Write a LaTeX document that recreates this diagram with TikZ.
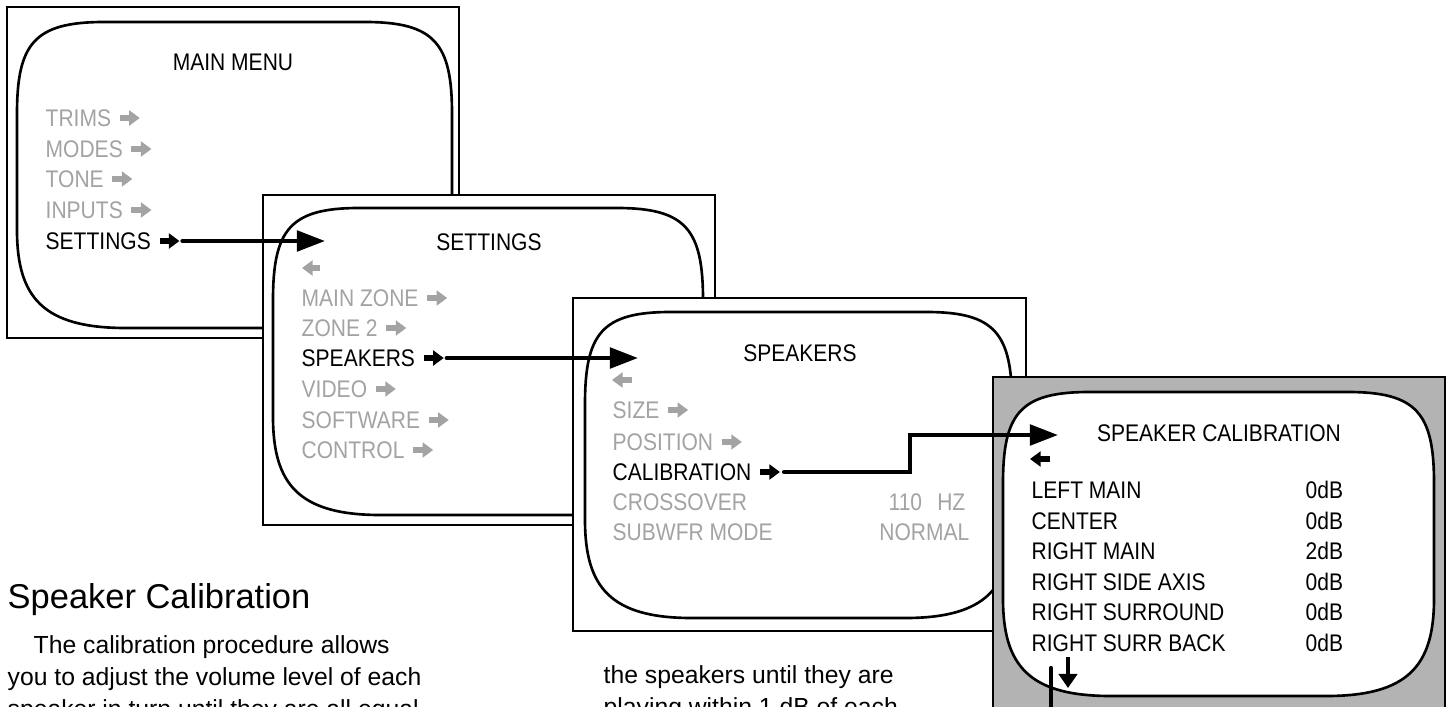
\documentclass[tikz,border=0pt]{standalone}
\usepackage{fontspec}
\setmainfont{Liberation Sans}
\newfontfamily\osdfont[FakeStretch=0.875]{Liberation Sans}
\usetikzlibrary{arrows.meta,calc}
\definecolor{dimtext}{RGB}{163,163,163}
\definecolor{panelgray}{RGB}{179,179,179}
\begin{document}
\begin{tikzpicture}[x=0.01cm,y=-0.01cm,
  frame/.style={draw,line width=0.6pt,fill=white},
  scr/.style={draw,line width=0.75pt,fill=white},
  screen/.pic={\path[scr] (0,50) -- (0,30) .. controls (0,7) and (4,0) .. (20,0) -- (80,0) .. controls (96,0) and (100,7) .. (100,30) -- (100,68) .. controls (100,90) and (94,100) .. (75,100) -- (25,100) .. controls (6,100) and (0,90) .. (0,68) -- cycle;},
  osd/.style={font=\osdfont\fontsize{6.83}{8}\selectfont,inner sep=0pt,text height=4.9pt,text depth=0pt},
  item/.style={osd,anchor=west,text=dimtext},
  sel/.style={osd,anchor=west,text=black},
  mini/.style={line width=1.7pt,-{Triangle[length=3pt,width=4.2pt]}},
  conn/.style={line width=1.2pt,line cap=round,-{Triangle[length=8pt,width=5.8pt]}},
  body/.style={font=\fontsize{7.03}{9}\selectfont,inner sep=0pt,anchor=base west}]
\useasboundingbox (0,0) rectangle (1452,706);
\clip (0,0) rectangle (1452,706);
% main menu
\draw[frame] (7,7) rectangle (459,338);
\pic[xscale=4.35,yscale=3.06] at (17,22) {screen};
\node[osd] (mm-title) at (233,62) {MAIN MENU};
\node[item] (mm-trims) at (45,118) {TRIMS};
\draw[mini,dimtext] ($(mm-trims.east)+(8,0)$) -- ++(20,0);
\node[item] (mm-modes) at (45,149) {MODES};
\draw[mini,dimtext] ($(mm-modes.east)+(8,0)$) -- ++(20,0);
\node[item] (mm-tone) at (45,179) {TONE};
\draw[mini,dimtext] ($(mm-tone.east)+(8,0)$) -- ++(20,0);
\node[item] (mm-inputs) at (45,210) {INPUTS};
\draw[mini,dimtext] ($(mm-inputs.east)+(8,0)$) -- ++(20,0);
\node[sel] (mm-set) at (45,241) {SETTINGS};
\draw[mini] ($(mm-set.east)+(8,0)$) -- ++(20,0) coordinate (mm-set-a);
% settings
\draw[frame] (263,195) rectangle (715,525);
\pic[xscale=4.30,yscale=3.07] at (273,208) {screen};
\coordinate (st-in) at (325,241);
\draw[conn] ($(mm-set-a)+(3,0)$) -- (st-in);
\node[osd] (st-title) at (489,242) {SETTINGS};
\draw[mini,dimtext] (320,268) -- (302,268);
\node[item] (st-main) at (301,298) {MAIN ZONE};
\draw[mini,dimtext] ($(st-main.east)+(8,0)$) -- ++(20,0);
\node[item] (st-zone) at (301,328) {ZONE 2};
\draw[mini,dimtext] ($(st-zone.east)+(8,0)$) -- ++(20,0);
\node[sel] (st-spk) at (301,358) {SPEAKERS};
\draw[mini] ($(st-spk.east)+(8,0)$) -- ++(20,0) coordinate (st-spk-a);
\node[item] (st-video) at (301,389) {VIDEO};
\draw[mini,dimtext] ($(st-video.east)+(8,0)$) -- ++(20,0);
\node[item] (st-soft) at (301,420) {SOFTWARE};
\draw[mini,dimtext] ($(st-soft.east)+(8,0)$) -- ++(20,0);
\node[item] (st-ctrl) at (301,450) {CONTROL};
\draw[mini,dimtext] ($(st-ctrl.east)+(8,0)$) -- ++(20,0);
% speakers
\draw[frame] (573,298) rectangle (1026,631);
\pic[xscale=4.27,yscale=3.06] at (585,312) {screen};
\coordinate (sp-in) at (638,358);
\draw[conn] ($(st-spk-a)+(3,0)$) -- (sp-in);
\node[osd] (sp-title) at (800,353) {SPEAKERS};
\draw[mini,dimtext] (632,380) -- (612,380);
\node[item] (sp-size) at (612,410) {SIZE};
\draw[mini,dimtext] ($(sp-size.east)+(8,0)$) -- ++(20,0);
\node[item] (sp-pos) at (612,442) {POSITION};
\draw[mini,dimtext] ($(sp-pos.east)+(8,0)$) -- ++(20,0);
\node[sel] (sp-cal) at (612,472) {CALIBRATION};
\draw[mini] ($(sp-cal.east)+(8,0)$) -- ++(20,0) coordinate (sp-cal-a);
\node[item] (sp-cross) at (612,502) {CROSSOVER};
\node[item,anchor=east] (sp-hz) at (966,502) {110\hspace{4.3pt}HZ};
\node[item] (sp-sub) at (612,532) {SUBWFR MODE};
\node[item,anchor=east] (sp-norm) at (970,532) {NORMAL};
% speaker calibration
\draw[line width=0.6pt,fill=panelgray] (993,377) rectangle (1445,720);
\pic[xscale=4.31,yscale=3.04] at (1003,392) {screen};
\coordinate (sc-in) at (1058,435);
\draw[conn] ($(sp-cal-a)+(4,0)$) -- ++(126,0) |- (sc-in);
\node[osd] (sc-title) at (1219,433) {SPEAKER CALIBRATION};
\draw[mini] (1050,459) -- (1030,459);
\node[sel] (sc-lm) at (1031,490) {LEFT MAIN};
\node[sel] (sc-lm-v) at (1305,490) {0dB};
\node[sel] (sc-c) at (1031,521) {CENTER};
\node[sel] (sc-c-v) at (1305,521) {0dB};
\node[sel] (sc-rm) at (1031,551) {RIGHT MAIN};
\node[sel] (sc-rm-v) at (1305,551) {2dB};
\node[sel] (sc-rsa) at (1031,582) {RIGHT SIDE AXIS};
\node[sel] (sc-rsa-v) at (1305,582) {0dB};
\node[sel] (sc-rs) at (1031,612) {RIGHT SURROUND};
\node[sel] (sc-rs-v) at (1305,612) {0dB};
\node[sel] (sc-rsb) at (1031,643) {RIGHT SURR BACK};
\node[sel] (sc-rsb-v) at (1305,643) {0dB};
\draw[line width=1.2pt,-{Triangle[length=4pt,width=5.2pt]}] (1068,657) -- (1068,688);
\coordinate (sc-out) at (1051,668);
\coordinate (sc-next) at (1051,730);
\draw[line width=1.2pt,line cap=round] (sc-out) -- (sc-next);
% text below
\node[font=\fontsize{9.8}{12}\selectfont,inner sep=0pt,anchor=base west] (hd) at (7,608) {Speaker Calibration};
\node[body] (pa1) at (33,653) {The calibration procedure allows};
\node[body] (pa2) at (7,685) {you to adjust the volume level of each};
\node[body] (pa3) at (7,717) {speaker in turn until they are all equal};
\node[body] (pb1) at (603,683) {the speakers until they are};
\node[body] (pb2) at (603,715) {playing within 1 dB of each};
\end{tikzpicture}
\end{document}
